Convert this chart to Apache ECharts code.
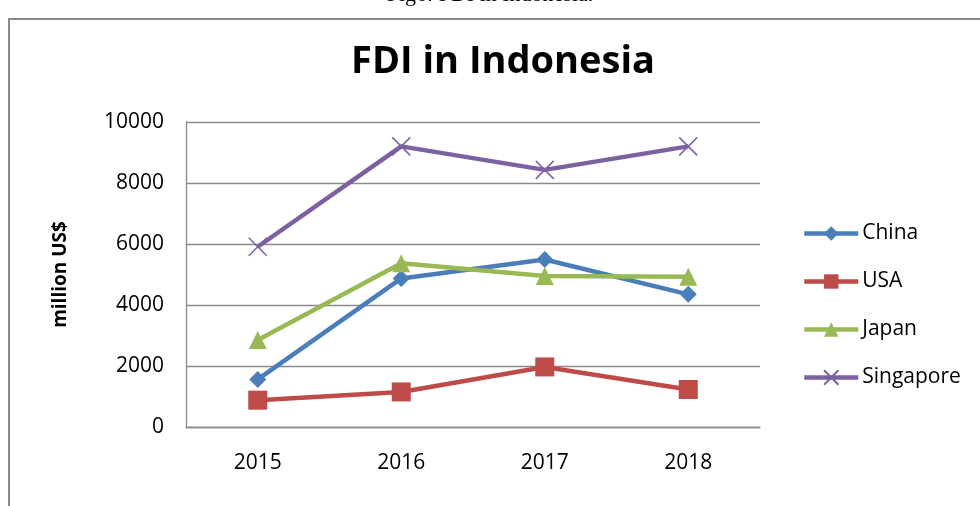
<!DOCTYPE html>
<html>
<head>
<meta charset="utf-8">
<script src="https://cdn.jsdelivr.net/npm/echarts@6/dist/echarts.min.js"></script>
<style>
  html, body { margin: 0; padding: 0; background: #fff; }
  #chart { width: 980px; height: 506px; }
</style>
</head>
<body>
<div id="chart"></div>
<script>
// data
var years = ['2015', '2016', '2017', '2018'];
var china = [1560, 4870, 5490, 4350];
var usa = [880, 1150, 1970, 1230];
var japan = [2850, 5370, 4950, 4930];
var singapore = [5910, 9200, 8430, 9200];
var yTicks = [0, 2000, 4000, 6000, 8000, 10000];

var font = '"Open Sans", "Noto Sans", sans-serif';
var crossPath = 'path://M0,0L10,10M10,0L0,10';

var myChart = echarts.init(document.getElementById('chart'));

function makeSeries(name, values, color, symbol, size, hollow) {
    return {
        name: name,
        type: 'line',
        data: values,
        symbol: symbol,
        symbolSize: size,
        showAllSymbol: true,
        lineStyle: { color: color, width: 4.5 },
        itemStyle: hollow
            ? { color: 'rgba(0,0,0,0)', borderColor: color, borderWidth: 1.5 }
            : { color: color, borderWidth: 0 },
        emphasis: { disabled: true },
        z: 3
    };
}

var option = {
    animation: false,
    backgroundColor: '#fff',
    textStyle: { fontFamily: font },
    title: {
        text: 'FDI in Indonesia',
        left: 498,
        top: 38,
        textAlign: 'center',
        textStyle: { fontSize: 38, fontWeight: 'bold', color: '#000', fontFamily: font }
    },
    graphic: [
        // caption of the figure, cut by the top edge
        {
            type: 'text', left: 'center', top: -16,
            style: { text: 'Fig6: FDI in Indonesia.', font: '22px "Liberation Serif", serif', fill: '#000' }
        },
        // page frame
        {
            type: 'polyline', silent: true,
            shape: { points: [[9, 506], [9, 19], [980, 19]] },
            style: { stroke: '#8a8a8a', lineWidth: 2, fill: null }
        }
    ],
    legend: {
        orient: 'vertical',
        left: 797,
        top: 218,
        itemWidth: 54,
        itemHeight: 18,
        itemGap: 27,
        lineStyle: { width: 4.5 },
        textStyle: { fontSize: 21, color: '#000', fontFamily: font, padding: [0, 0, 0, -1] },
        data: ['China', 'USA', 'Japan', 'Singapore']
    },
    grid: { left: 186, right: 220, top: 122, bottom: 79 },
    xAxis: {
        type: 'category',
        data: years,
        boundaryGap: true,
        axisLine: { lineStyle: { color: '#8a8a8a', width: 1.3 } },
        axisTick: { show: false },
        axisLabel: { fontSize: 21, color: '#000', margin: 26 }
    },
    yAxis: {
        type: 'value',
        min: yTicks[0],
        max: yTicks[yTicks.length - 1],
        interval: 2000,
        name: 'million US$',
        nameLocation: 'middle',
        nameGap: 116,
        nameTextStyle: { fontSize: 19, fontWeight: 'bold', color: '#000' },
        axisLine: { show: true, lineStyle: { color: '#8a8a8a', width: 1.3 } },
        axisTick: { show: false },
        splitLine: { lineStyle: { color: '#8a8a8a', width: 1.3 } },
        axisLabel: {
            fontSize: 21, color: '#000', margin: 22,
            formatter: function (v) { return String(v); }
        }
    },
    series: [
        makeSeries('China', china, '#4a7ebb', 'diamond', 17, false),
        makeSeries('USA', usa, '#be4b48', 'rect', 19, false),
        makeSeries('Japan', japan, '#98b954', 'triangle', 18, false),
        makeSeries('Singapore', singapore, '#7d60a0', crossPath, 18, true)
    ]
};

myChart.setOption(option);
</script>
</body>
</html>
